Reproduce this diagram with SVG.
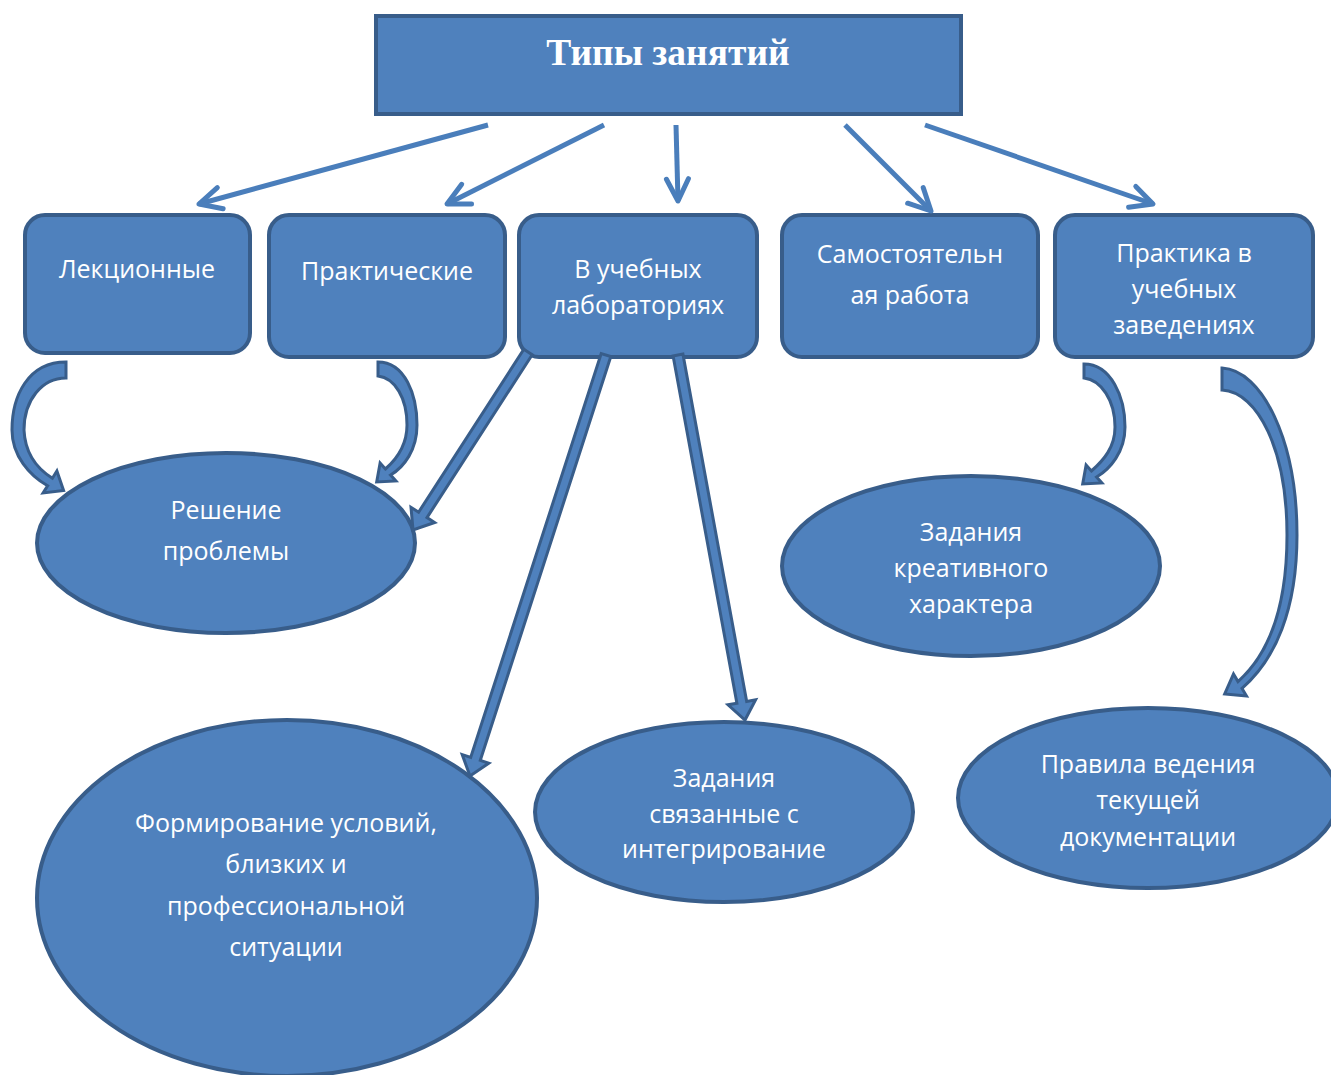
<svg xmlns="http://www.w3.org/2000/svg" width="1331" height="1075" viewBox="0 0 1331 1075">
<style>
.box{fill:#4F81BD;stroke:#385D8A;stroke-width:4}
.lbl{font-family:"Open Sans","Liberation Sans",sans-serif;font-size:25px;fill:#FFFFFF;text-anchor:middle}
.ttl{font-family:"Liberation Serif","Times New Roman",serif;font-size:37.5px;font-weight:bold;fill:#FFFFFF;text-anchor:middle}
.thin{fill:none;stroke:#4A7EBB;stroke-width:5;marker-end:url(#chev)}
.blk{fill:#4F81BD;stroke:#385D8A;stroke-width:3;stroke-linejoin:miter}
</style>
<defs>
<marker id="chev" markerUnits="userSpaceOnUse" viewBox="-28 -16 34 32" refX="0" refY="0" markerWidth="34" markerHeight="32" orient="auto">
<path d="M-22,-11 L0,0 L-22,11" fill="none" stroke="#4A7EBB" stroke-width="5" stroke-linecap="round" stroke-linejoin="round"/>
</marker>
</defs>
<rect width="1331" height="1075" fill="#FFFFFF"/>

<g id="title">
<rect class="box" x="376" y="16" width="585" height="98"/>
<text class="ttl" x="668" y="65">Типы занятий</text>
</g>

<g id="lectures">
<rect class="box" x="25" y="215" width="225" height="138" rx="20"/>
<text class="lbl" x="137" y="278">Лекционные</text>
</g>
<g id="practical">
<rect class="box" x="269" y="215" width="236" height="142" rx="20"/>
<text class="lbl" x="387" y="280">Практические</text>
</g>
<g id="labs">
<rect class="box" x="519" y="215" width="238" height="142" rx="20"/>
<text class="lbl" x="638" y="278">В учебных</text>
<text class="lbl" x="638" y="314">лабораториях</text>
</g>
<g id="selfwork">
<rect class="box" x="782" y="215" width="256" height="142" rx="20"/>
<text class="lbl" x="910" y="263">Самостоятельн</text>
<text class="lbl" x="910" y="304">ая работа</text>
</g>
<g id="practice">
<rect class="box" x="1055" y="215" width="258" height="142" rx="20"/>
<text class="lbl" x="1184" y="262">Практика в</text>
<text class="lbl" x="1184" y="298">учебных</text>
<text class="lbl" x="1184" y="334">заведениях</text>
</g>

<g id="problem">
<ellipse class="box" cx="226" cy="543" rx="189" ry="90"/>
<text class="lbl" x="226" y="519">Решение</text>
<text class="lbl" x="226" y="560">проблемы</text>
</g>
<g id="creative">
<ellipse class="box" cx="971" cy="566" rx="189" ry="90"/>
<text class="lbl" x="971" y="541">Задания</text>
<text class="lbl" x="971" y="577">креативного</text>
<text class="lbl" x="971" y="613">характера</text>
</g>
<g id="conditions">
<ellipse class="box" cx="287" cy="898" rx="250" ry="178"/>
<text class="lbl" x="286" y="832">Формирование условий,</text>
<text class="lbl" x="286" y="873">близких и</text>
<text class="lbl" x="286" y="915">профессиональной</text>
<text class="lbl" x="286" y="956">ситуации</text>
</g>
<g id="integration">
<ellipse class="box" cx="724" cy="812" rx="189" ry="90"/>
<text class="lbl" x="724" y="787">Задания</text>
<text class="lbl" x="724" y="823">связанные с</text>
<text class="lbl" x="724" y="858">интегрирование</text>
</g>
<g id="documentation">
<ellipse class="box" cx="1148" cy="798" rx="190" ry="90"/>
<text class="lbl" x="1148" y="773">Правила ведения</text>
<text class="lbl" x="1148" y="809">текущей</text>
<text class="lbl" x="1148" y="846">документации</text>
</g>

<g id="connectors">
<line class="thin" x1="488" y1="125" x2="199" y2="204"/>
<line class="thin" x1="604" y1="125" x2="447" y2="204"/>
<line class="thin" x1="676" y1="125" x2="678" y2="201"/>
<line class="thin" x1="845" y1="125" x2="931" y2="211"/>
<line class="thin" x1="925" y1="125" x2="1153" y2="204"/>

<path class="blk" d="M532.2,354.7 L427,517.6 L434.6,522.5 L413,530 L411,507.3 L418.6,512.2 L523.8,349.3 Z"/>
<path class="blk" d="M610.8,356.5 L480.3,760.4 L488.8,763.2 L470,776 L462.2,754.6 L470.7,757.4 L601.2,353.5 Z"/>
<path class="blk" d="M682.9,354.1 L746.7,701.4 L755.6,699.8 L745,720 L728,704.8 L736.9,703.2 L673.1,355.9 Z"/>

<path class="blk" d="M66,362 C28,362 12,396 12,430 C12,456 30,476 47.6,485.8 L43.1,493 L63.6,490.5 L56.9,471 L52.4,478.2 C36,468 25,452 24,430 C24,400 42,378 66,378 Z"/>
<path class="blk" d="M378,362 C405,362 417,395 417,425 C417,450 404,467 390.6,475 L395.9,481 L376.7,481.9 L380.1,463 L385.4,469 C398,458 407,445 407,425 C407,398 395,378 378,376 Z"/>
<path class="blk" transform="translate(706,2)" d="M378,362 C405,362 419,395 419,425 C419,450 404,467 390.6,475 L395.9,481 L376.7,481.9 L380.1,463 L385.4,469 C398,458 409,445 409,425 C409,398 395,378 378,376 Z"/>
<path class="blk" d="M1222,368 C1262,370 1297,440 1297,535 C1297,610 1275,660 1242,688.4 L1246.5,696 L1224.7,694 L1233.5,674 L1238,681.6 C1268,655 1287,610 1287,535 C1287,450 1258,392 1222,390 Z"/>
</g>
</svg>
